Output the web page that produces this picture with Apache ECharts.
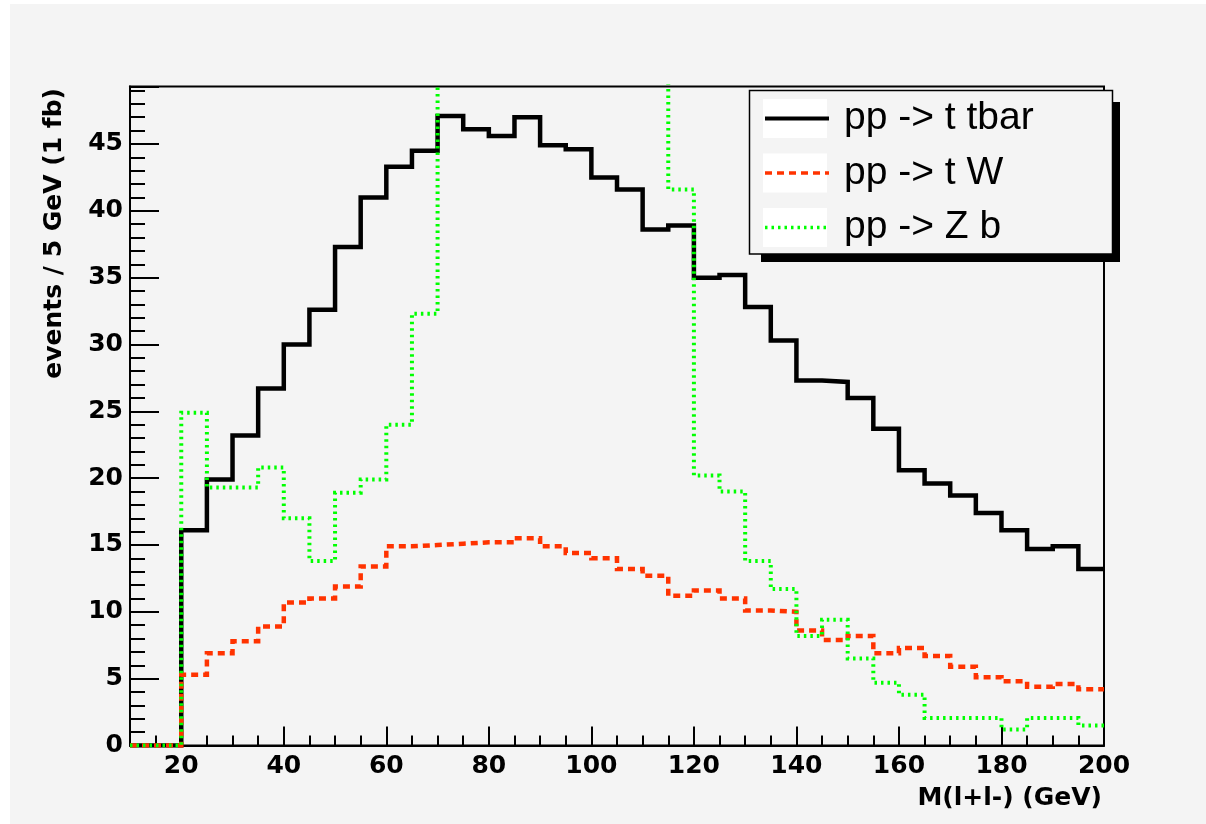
<!DOCTYPE html>
<html><head><meta charset="utf-8">
<script src="https://cdn.jsdelivr.net/npm/echarts@6/dist/echarts.min.js"></script>
<style>
html,body{margin:0;padding:0;background:#fff;width:1206px;height:824px;overflow:hidden}
#bg{position:absolute;left:10px;top:4px;width:1196px;height:820px;background:#f4f4f4}
#chart{position:absolute;left:0;top:0;width:1206px;height:824px}
</style></head><body><div id="bg"></div><div id="chart"></div>
<script>
// bin low edges (GeV), 5 GeV bins
const binLowEdges = [10,15,20,25,30,35,40,45,50,55,60,65,70,75,80,85,90,95,100,105,110,115,120,125,130,135,140,145,150,155,160,165,170,175,180,185,190,195];
const ttbar = [0,0,16.1,19.9,23.2,26.7,30.0,32.6,37.3,41.0,43.3,44.5,47.1,46.1,45.6,47.0,44.9,44.6,42.5,41.6,38.6,38.9,35.0,35.2,32.8,30.3,27.3,27.2,26.0,23.7,20.6,19.6,18.7,17.4,16.1,14.7,14.9,13.2];
const tW = [0,0,5.3,6.9,7.8,8.9,10.7,11.0,11.9,13.4,14.9,15.0,15.1,15.2,15.2,15.5,14.9,14.4,14.0,13.2,12.7,11.2,11.6,11.0,10.1,10.0,8.6,7.9,8.2,6.9,7.3,6.7,5.9,5.1,4.8,4.4,4.6,4.2];
// Z b: bins 70-115 run off the top of the frame (estimated, clipped)
const Zb = [0,0,24.9,19.3,19.3,20.8,17.0,13.8,18.9,19.9,24.0,32.3,62,85,140,230,260,150,90,65,55,41.6,20.2,19.0,13.8,11.7,8.2,9.4,6.5,4.7,3.8,2.05,2.05,2.05,1.2,2.05,2.05,1.5];
const xTickLabels = [20,40,60,80,100,120,140,160,180,200];
const yTickLabels = [0,5,10,15,20,25,30,35,40,45];
const seriesNames = ['pp -> t tbar','pp -> t W','pp -> Z b'];
const X_MIN = 10, X_MAX = 200, Y_MIN = 0, Y_MAX = 49.3;

function histPoints(vals){
  const pts = binLowEdges.map((e,i)=>[e, vals[i]]);
  pts.push([X_MAX, vals[vals.length-1]]);
  return pts;
}

const bold = {fontFamily:'DejaVu Sans', fontWeight:'bold', fontSize:25, color:'#000'};
const tickLine = {color:'#000', width:2};

const chart = echarts.init(document.getElementById('chart'), null, {renderer:'canvas'});
chart.setOption({
  animation:false,
  grid:{left:130, right:102, top:86.5, bottom:78.5, show:true, borderColor:'#000', borderWidth:2,
        backgroundColor:'transparent', containLabel:false, outerBoundsMode:'none'},
  xAxis:[
    {type:'value', min:X_MIN, max:X_MAX, interval:5, position:'bottom',
     axisLine:{show:true, onZero:false, lineStyle:{color:'#000', width:2}},
     axisTick:{show:true, inside:true, length:10, lineStyle:tickLine},
     axisLabel:{show:false}, splitLine:{show:false}},
    {type:'value', min:X_MIN, max:X_MAX, position:'bottom',
     axisLine:{show:false, onZero:false},
     axisTick:{show:true, inside:true, length:19, customValues:xTickLabels, lineStyle:tickLine},
     axisLabel:Object.assign({show:true, margin:8, customValues:xTickLabels}, bold),
     splitLine:{show:false}}
  ],
  yAxis:[
    {type:'value', min:Y_MIN, max:Y_MAX, interval:1, position:'left',
     axisLine:{show:true, onZero:false, lineStyle:{color:'#000', width:2}},
     axisTick:{show:true, inside:true, length:15, lineStyle:tickLine},
     axisLabel:{show:false}, splitLine:{show:false}},
    {type:'value', min:Y_MIN, max:Y_MAX, interval:5, position:'left',
     axisLine:{show:false, onZero:false},
     axisTick:{show:true, inside:true, length:29, lineStyle:tickLine},
     axisLabel:Object.assign({show:true, margin:7, formatter:function(v){return yTickLabels.indexOf(v)>=0 ? String(v) : '';}}, bold),
     splitLine:{show:false}}
  ],
  legend:{
    orient:'vertical', left:763, top:99, padding:0, itemWidth:64, itemHeight:39, itemGap:15.5, z:20,
    itemStyle:{opacity:0},
    textStyle:{fontFamily:'Liberation Sans', fontSize:39, lineHeight:39, color:'#000', padding:[0,0,0,10]},
    data:[
      {name:seriesNames[0], itemStyle:{opacity:0}, lineStyle:{width:4}},
      {name:seriesNames[1], itemStyle:{opacity:0}, lineStyle:{width:3.5}},
      {name:seriesNames[2], itemStyle:{opacity:0}, lineStyle:{width:3.5}}
    ]
  },
  series:[
    {type:'line', name:seriesNames[0], data:histPoints(ttbar), step:'end', symbol:'none', clip:true, z:2,
     itemStyle:{color:'#000'}, lineStyle:{color:'#000', width:4.5, join:'miter'}},
    {type:'line', name:seriesNames[1], data:histPoints(tW), step:'end', symbol:'none', clip:true, z:3,
     itemStyle:{color:'#ff3300'}, lineStyle:{color:'#ff3300', width:4.5, type:[7,5], join:'miter'}},
    {type:'line', name:seriesNames[2], data:histPoints(Zb), step:'end', symbol:'none', clip:true, z:4,
     itemStyle:{color:'#00ff00'}, lineStyle:{color:'#00ff00', width:4, type:[2.5,4], join:'miter'}}
  ],
  graphic:[
    {type:'rect', z:10, shape:{x:761, y:102, width:359, height:160}, style:{fill:'#000'}},
    {type:'rect', z:11, shape:{x:749.5, y:90.5, width:363, height:163.5}, style:{fill:'#f4f4f4', stroke:'#000', lineWidth:1.5}},
    {type:'rect', z:12, shape:{x:763, y:99, width:64, height:39}, style:{fill:'#fff'}},
    {type:'rect', z:12, shape:{x:763, y:153.5, width:64, height:39}, style:{fill:'#fff'}},
    {type:'rect', z:12, shape:{x:763, y:208, width:64, height:39}, style:{fill:'#fff'}},
    {type:'text', z:12, x:1102, y:798, style:{text:'M(l+l-) (GeV)', align:'right', verticalAlign:'middle',
      fontFamily:'DejaVu Sans', fontWeight:'bold', fontSize:25, fill:'#000'}},
    {type:'text', z:12, x:54, y:88, rotation:Math.PI/2, style:{text:'events / 5 GeV (1 fb)', align:'right', verticalAlign:'middle',
      fontFamily:'DejaVu Sans', fontWeight:'bold', fontSize:25, fill:'#000'}}
  ]
});
</script></body></html>
